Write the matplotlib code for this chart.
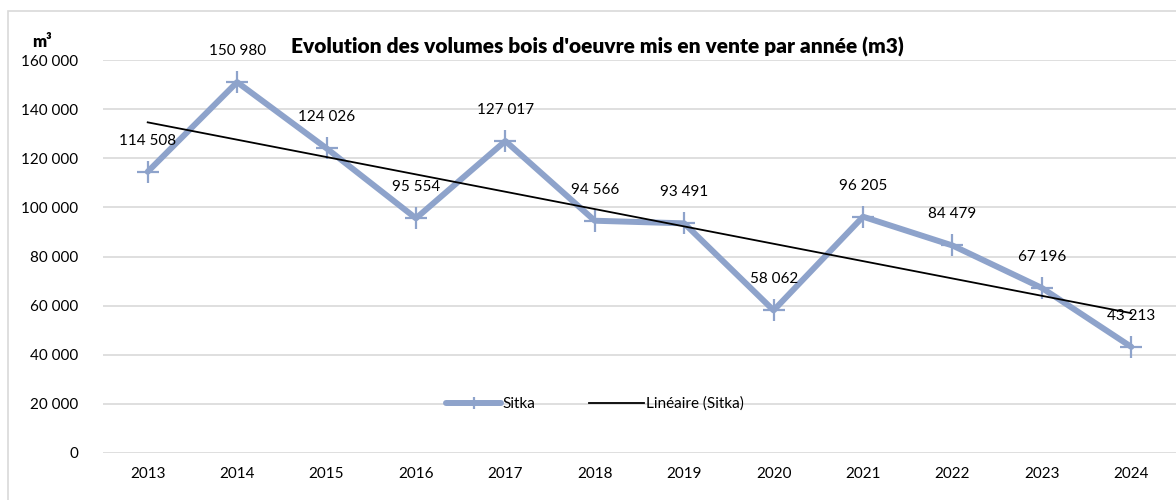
import matplotlib
matplotlib.use("Agg")
import matplotlib.pyplot as plt
import numpy as np
from matplotlib.patches import Rectangle
from matplotlib.ticker import FuncFormatter

plt.rcParams['font.family'] = ['Lato', 'DejaVu Sans']

years = ['2013', '2014', '2015', '2016', '2017', '2018', '2019', '2020', '2021', '2022', '2023', '2024']
sitka = [114508, 150980, 124026, 95554, 127017, 94566, 93491, 58062, 96205, 84479, 67196, 43213]
title = "Evolution des volumes bois d'oeuvre mis en vente par année (m3)"

fig = plt.figure(figsize=(11.76, 5.0), dpi=100)
ax = fig.add_axes([103/1176, 1-453/500, 1-103/1176, (453-60)/500])

x = np.arange(len(years))
line_col = '#8EA3CB'
ax.plot(x, sitka, color=line_col, lw=4.3, marker='+', ms=16, mew=1.6,
        solid_joinstyle='round', solid_capstyle='round', label='Sitka', zorder=3)

coef = np.polyfit(x, sitka, 1)
ax.plot(x, np.polyval(coef, x), color='black', lw=1.3, label='Linéaire (Sitka)', zorder=4)

def fmt(v):
    return f"{int(round(v)):,}".replace(',', ' ')

for xi, v in zip(x, sitka):
    ax.annotate(fmt(v), (xi, v), xytext=(0, 31), textcoords='offset pixels',
                ha='center', va='center', fontsize=11, zorder=5)

ax.set_xlim(-0.5, len(years) - 0.5)
ax.set_ylim(0, 160000)
ax.set_yticks(np.arange(0, 160001, 20000))
ax.yaxis.set_major_formatter(FuncFormatter(lambda v, p: fmt(v)))
ax.set_xticks(x)
ax.set_xticklabels(years)
ax.tick_params(axis='both', length=0, labelsize=11)
ax.tick_params(axis='y', pad=18)
ax.tick_params(axis='x', pad=10)
ax.grid(axis='y', color='#D9D9D9', lw=1.2)
ax.set_axisbelow(True)
for s in ax.spines.values():
    s.set_visible(False)

fig.text(597/1176, 1-47/500, title, ha='center', va='center', fontsize=15, fontweight='heavy')
fig.text(42/1176, 1-42/500, 'm³', ha='center', va='center', fontsize=12, fontweight='heavy')

leg = ax.legend(loc='center', bbox_to_anchor=(595/1176, 1-404/500), bbox_transform=fig.transFigure,
                ncol=2, frameon=False, fontsize=11, handlelength=3.6, columnspacing=3.5,
                handletextpad=0.1, markerscale=0.5)

fig.patches.append(Rectangle((8/1176, -0.1), 1.2, 1 - 11/500 + 0.1, transform=fig.transFigure,
                             fill=False, edgecolor='#D9D9D9', lw=1.2))

fig.savefig('out.png', dpi=100)
